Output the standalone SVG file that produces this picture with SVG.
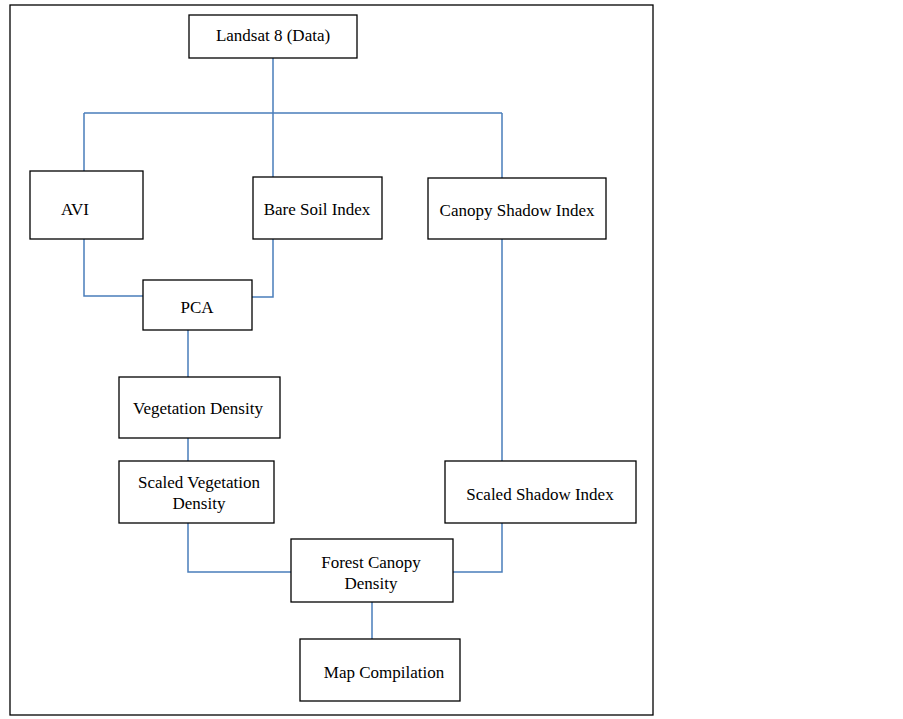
<svg xmlns="http://www.w3.org/2000/svg" width="903" height="719" viewBox="0 0 903 719">
<style>
.b{fill:#fff;stroke:#000;stroke-width:1.3}
.t{font-family:"Liberation Serif",serif;font-size:17px;text-anchor:middle;fill:#000}
.c{fill:none;stroke:#4a7ebb;stroke-width:1.5}
</style>
<rect x="0" y="0" width="903" height="719" fill="#fff"/>
<rect x="10" y="5" width="643" height="710" fill="none" stroke="#000" stroke-width="1.3"/>
<g id="connectors">
<path class="c" d="M273 58V113M84 113H502M84 113V171M273 113V177M502 113V178"/>
<path class="c" d="M84 239V296H143M273 239V297H252"/>
<path class="c" d="M188 330V377M188 438V461M502 239V461"/>
<path class="c" d="M188 523V572H291M502 523V572H453M372 602V639"/>
</g>
<g id="landsat"><rect class="b" x="189" y="15" width="168" height="43"/><text class="t" x="273" y="41">Landsat 8 (Data)</text></g>
<g id="avi"><rect class="b" x="30" y="171" width="113" height="68"/><text class="t" x="75" y="215">AVI</text></g>
<g id="bsi"><rect class="b" x="253" y="177" width="129" height="62"/><text class="t" x="317" y="215">Bare Soil Index</text></g>
<g id="csi"><rect class="b" x="428" y="178" width="178" height="61"/><text class="t" x="517" y="216">Canopy Shadow Index</text></g>
<g id="pca"><rect class="b" x="143" y="280" width="109" height="50"/><text class="t" x="197" y="313">PCA</text></g>
<g id="vd"><rect class="b" x="119" y="377" width="161" height="61"/><text class="t" x="198" y="414">Vegetation Density</text></g>
<g id="svd"><rect class="b" x="119" y="461" width="155" height="62"/><text class="t" x="199" y="488">Scaled Vegetation</text><text class="t" x="199" y="509">Density</text></g>
<g id="ssi"><rect class="b" x="445" y="461" width="191" height="62"/><text class="t" x="540" y="500">Scaled Shadow Index</text></g>
<g id="fcd"><rect class="b" x="291" y="539" width="162" height="63"/><text class="t" x="371" y="568">Forest Canopy</text><text class="t" x="371" y="589">Density</text></g>
<g id="map"><rect class="b" x="300" y="639" width="160" height="62"/><text class="t" x="384" y="678">Map Compilation</text></g>
</svg>
